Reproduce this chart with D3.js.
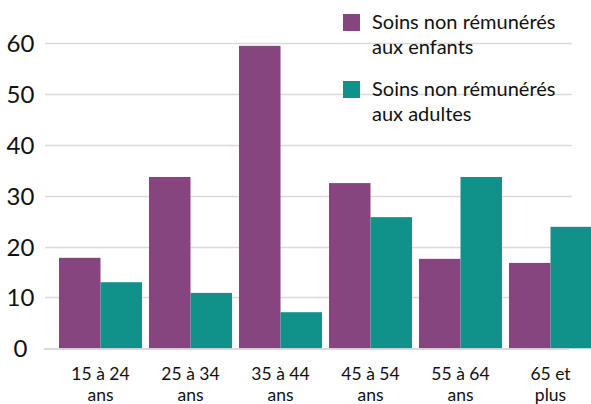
<!DOCTYPE html>
<html><head><meta charset="utf-8">
<script src="https://cdn.jsdelivr.net/npm/d3@7"></script>
<style>body{margin:0;background:#fff}svg{display:block}</style>
</head><body>
<script>
const categories = ["15 à 24 ans", "25 à 34 ans", "35 à 44 ans", "45 à 54 ans", "55 à 64 ans", "65 et plus"];
const seriesNames = [["Soins non rémunérés", "aux enfants"], ["Soins non rémunérés", "aux adultes"]];
const enfants = [17.8, 33.7, 59.5, 32.5, 17.6, 16.8];
const adultes = [13.0, 10.9, 7.1, 25.8, 33.7, 23.9];
const yTicks = [0, 10, 20, 30, 40, 50, 60];
const colors = ["#86457f", "#10918a"];

const W = 591, H = 404;
const FONT = "Lato, 'Open Sans', sans-serif";
const svg = d3.select("body").append("svg").attr("width", W).attr("height", H);

const x = d3.scaleBand().domain(categories).range([55.5, 595.5]).paddingInner(0.0778).paddingOuter(0.0389);
const xs = d3.scaleBand().domain([0, 1]).range([0, x.bandwidth()]);
const y = d3.scaleLinear().domain([0, 60]).range([348.3, 43.3]);

// y axis labels
const yAxis = d3.axisLeft(y).tickValues(yTicks).tickSize(0).tickPadding(0);
const gy = svg.append("g").attr("transform", "translate(20.5,0)").call(yAxis);
gy.select(".domain").remove();
gy.selectAll("text").attr("text-anchor", "middle").attr("dy", "0.35em")
  .style("font-family", FONT).style("font-size", "24px").attr("fill", "#111");

// gridlines
svg.append("g").selectAll("line").data(yTicks.filter(d => d > 0)).join("line")
  .attr("x1", 45).attr("x2", 572)
  .attr("y1", d => Math.round(y(d)) + 0.5).attr("y2", d => Math.round(y(d)) + 0.5)
  .attr("stroke", "#dadada").attr("stroke-width", 1.5);

// bars
const data = categories.map((c, i) => ({c, v: [enfants[i], adultes[i]]}));
const g = svg.append("g");
g.selectAll("g").data(data).join("g")
  .attr("transform", d => `translate(${x(d.c)},0)`)
  .selectAll("rect").data(d => d.v.map((v, k) => ({v, k}))).join("rect")
  .attr("x", d => xs(d.k)).attr("width", xs.bandwidth())
  .attr("y", d => y(d.v)).attr("height", d => y(0) - y(d.v))
  .attr("fill", d => colors[d.k]);

// zero line
svg.append("line").attr("x1", 44).attr("x2", 569).attr("y1", y(0) + 0.7).attr("y2", y(0) + 0.7)
  .attr("stroke", "#cfcfcf").attr("stroke-width", 1.5);

// x labels (two lines each, separate text elements)
const xg = svg.append("g");
categories.forEach(d => {
  const idx = d.lastIndexOf(" ");
  const lines = [d.slice(0, idx), d.slice(idx + 1)];
  lines.forEach((l, i) => {
    xg.append("text")
      .attr("x", x(d) + x.bandwidth() / 2)
      .attr("y", 380 + i * 21)
      .attr("text-anchor", "middle")
      .style("font-family", FONT).style("font-size", "17.5px").attr("fill", "#111")
      .text(l);
  });
});

// legend
const leg = svg.append("g");
const legY = [14, 81];
seriesNames.forEach((lines, k) => {
  leg.append("rect").attr("x", 343).attr("y", legY[k]).attr("width", 17).attr("height", 17).attr("fill", colors[k]);
  lines.forEach((l, i) => leg.append("text")
    .style("font-family", FONT).style("font-size", "20px").attr("fill", "#111")
    .attr("x", 372).attr("y", legY[k] + 15 + i * 24.5).text(l));
});
</script>
</body></html>
